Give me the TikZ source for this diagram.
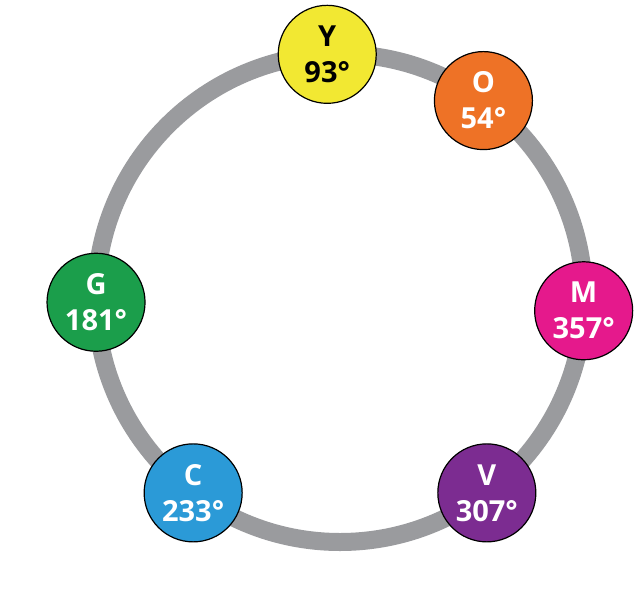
\documentclass[tikz,border=0pt]{standalone}
\usepackage{fontspec}
\setmainfont{Open Sans}
\usetikzlibrary{positioning}
\definecolor{ringgray}{HTML}{9A9B9E}
\definecolor{colY}{HTML}{F2E832}
\definecolor{colO}{HTML}{EE7226}
\definecolor{colM}{HTML}{E5198C}
\definecolor{colV}{HTML}{7C2C91}
\definecolor{colC}{HTML}{2B9AD7}
\definecolor{colG}{HTML}{1B9E4B}

\begin{document}
\begin{tikzpicture}[x=1pt, y=1pt]
    \def\R{244}
    \def\Ddot{98pt}
    \def\Wring{18pt}

    \tikzset{huedot/.style={draw=black, line width=1.2pt, circle, minimum size=\Ddot, inner sep=0pt,
        align=center, font=\bfseries\fontsize{29}{36}\selectfont}}

    \useasboundingbox (-340,-304) rectangle (304,298);

    % The grey ring
    \coordinate (hub) at (0,0);
    \draw [ringgray, line width=\Wring] (hub) circle [radius=\R];

    % The hue dots, placed at their own angle
    \foreach \ang/\lab/\fillc/\txtc in {93/Y/colY/black, 54/O/colO/white, 357/M/colM/white,
        307/V/colV/white, 233/C/colC/white, 181/G/colG/white}{
        \node [huedot, fill=\fillc, text=\txtc] (dot\lab) at (\ang:\R) {\lab\\\ang°};
    }
\end{tikzpicture}
\end{document}
